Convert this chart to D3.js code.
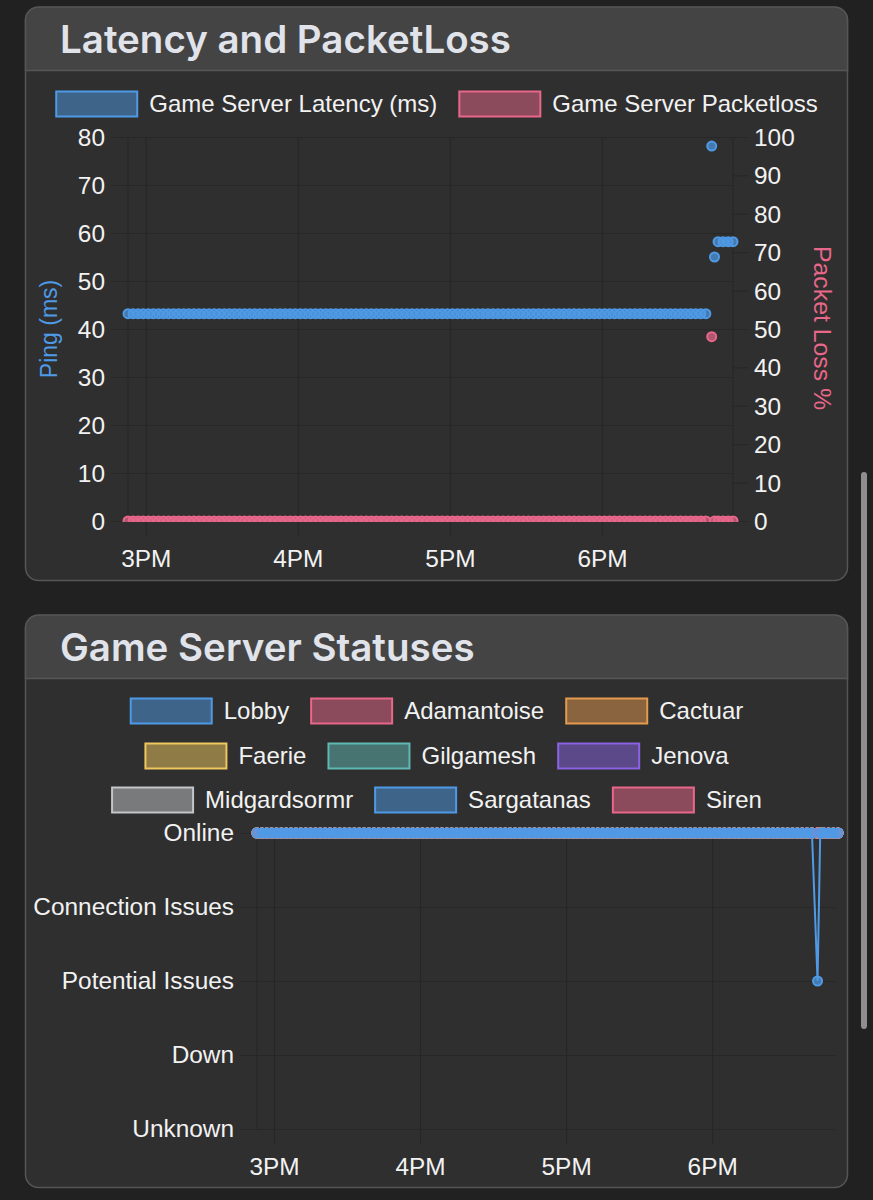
<!DOCTYPE html>
<html>
<head>
<meta charset="utf-8">
<script src="https://cdn.jsdelivr.net/npm/d3@7"></script>
<style>
html, body { margin: 0; padding: 0; background: #212121; overflow: hidden; }
text { font-family: "Liberation Sans", sans-serif; }
.title { font-family: Inter, sans-serif; font-weight: 600; font-size: 38.5px; fill: #e1e3ea; }
.axis text { font-size: 24.4px; fill: #f2f2f2; }
.axis .domain { display: none; }
.axis line { stroke: #272727; stroke-width: 1; }
.legend text { font-size: 24px; fill: #f2f2f2; }
</style>
</head>
<body>
<svg id="page" width="873" height="1200"></svg>
<script>
// minutes relative to 3PM
var times = [
    -7, -5, -3, -1, 1, 3, 5, 7, 9, 11,
    13, 15, 17, 19, 21, 23, 25, 27, 29, 31,
    33, 35, 37, 39, 41, 43, 45, 47, 49, 51,
    53, 55, 57, 59, 61, 63, 65, 67, 69, 71,
    73, 75, 77, 79, 81, 83, 85, 87, 89, 91,
    93, 95, 97, 99, 101, 103, 105, 107, 109, 111,
    113, 115, 117, 119, 121, 123, 125, 127, 129, 131,
    133, 135, 137, 139, 141, 143, 145, 147, 149, 151,
    153, 155, 157, 159, 161, 163, 165, 167, 169, 171,
    173, 175, 177, 179, 181, 183, 185, 187, 189, 191,
    193, 195, 197, 199, 201, 203, 205, 207, 209, 211,
    213, 215, 217, 219, 221,
    223.3, 224.4, 225.8, 227.8, 229.8, 231.7
];
var latency = [
    43.2, 43.2, 43.2, 43.2, 43.2, 43.2, 43.2, 43.2, 43.2, 43.2,
    43.2, 43.2, 43.2, 43.2, 43.2, 43.2, 43.2, 43.2, 43.2, 43.2,
    43.2, 43.2, 43.2, 43.2, 43.2, 43.2, 43.2, 43.2, 43.2, 43.2,
    43.2, 43.2, 43.2, 43.2, 43.2, 43.2, 43.2, 43.2, 43.2, 43.2,
    43.2, 43.2, 43.2, 43.2, 43.2, 43.2, 43.2, 43.2, 43.2, 43.2,
    43.2, 43.2, 43.2, 43.2, 43.2, 43.2, 43.2, 43.2, 43.2, 43.2,
    43.2, 43.2, 43.2, 43.2, 43.2, 43.2, 43.2, 43.2, 43.2, 43.2,
    43.2, 43.2, 43.2, 43.2, 43.2, 43.2, 43.2, 43.2, 43.2, 43.2,
    43.2, 43.2, 43.2, 43.2, 43.2, 43.2, 43.2, 43.2, 43.2, 43.2,
    43.2, 43.2, 43.2, 43.2, 43.2, 43.2, 43.2, 43.2, 43.2, 43.2,
    43.2, 43.2, 43.2, 43.2, 43.2, 43.2, 43.2, 43.2, 43.2, 43.2,
    43.2, 43.2, 43.2, 43.2, 43.2,
    78.1, 55, 58.2, 58.2, 58.2, 58.2
];
var packetLoss = [
    0, 0, 0, 0, 0, 0, 0, 0, 0, 0,
    0, 0, 0, 0, 0, 0, 0, 0, 0, 0,
    0, 0, 0, 0, 0, 0, 0, 0, 0, 0,
    0, 0, 0, 0, 0, 0, 0, 0, 0, 0,
    0, 0, 0, 0, 0, 0, 0, 0, 0, 0,
    0, 0, 0, 0, 0, 0, 0, 0, 0, 0,
    0, 0, 0, 0, 0, 0, 0, 0, 0, 0,
    0, 0, 0, 0, 0, 0, 0, 0, 0, 0,
    0, 0, 0, 0, 0, 0, 0, 0, 0, 0,
    0, 0, 0, 0, 0, 0, 0, 0, 0, 0,
    0, 0, 0, 0, 0, 0, 0, 0, 0, 0,
    0, 0, 0, 0, 0,
    48, 0, 0, 0, 0, 0
];
// 4 = Online ... 0 = Unknown
var lobbyStatus = [
    4, 4, 4, 4, 4, 4, 4, 4, 4, 4,
    4, 4, 4, 4, 4, 4, 4, 4, 4, 4,
    4, 4, 4, 4, 4, 4, 4, 4, 4, 4,
    4, 4, 4, 4, 4, 4, 4, 4, 4, 4,
    4, 4, 4, 4, 4, 4, 4, 4, 4, 4,
    4, 4, 4, 4, 4, 4, 4, 4, 4, 4,
    4, 4, 4, 4, 4, 4, 4, 4, 4, 4,
    4, 4, 4, 4, 4, 4, 4, 4, 4, 4,
    4, 4, 4, 4, 4, 4, 4, 4, 4, 4,
    4, 4, 4, 4, 4, 4, 4, 4, 4, 4,
    4, 4, 4, 4, 4, 4, 4, 4, 4, 4,
    4, 4, 4, 4, 4,
    2, 4, 4, 4, 4, 4
];
var worldStatus = [
    4, 4, 4, 4, 4, 4, 4, 4, 4, 4,
    4, 4, 4, 4, 4, 4, 4, 4, 4, 4,
    4, 4, 4, 4, 4, 4, 4, 4, 4, 4,
    4, 4, 4, 4, 4, 4, 4, 4, 4, 4,
    4, 4, 4, 4, 4, 4, 4, 4, 4, 4,
    4, 4, 4, 4, 4, 4, 4, 4, 4, 4,
    4, 4, 4, 4, 4, 4, 4, 4, 4, 4,
    4, 4, 4, 4, 4, 4, 4, 4, 4, 4,
    4, 4, 4, 4, 4, 4, 4, 4, 4, 4,
    4, 4, 4, 4, 4, 4, 4, 4, 4, 4,
    4, 4, 4, 4, 4, 4, 4, 4, 4, 4,
    4, 4, 4, 4, 4,
    4, 4, 4, 4, 4, 4
];
var hourTicks = [0, 60, 120, 180];
var hourLabels = ["3PM", "4PM", "5PM", "6PM"];
var pingTicks = [0, 10, 20, 30, 40, 50, 60, 70, 80];
var lossTicks = [0, 10, 20, 30, 40, 50, 60, 70, 80, 90, 100];
var statusLabels = ["Unknown", "Down", "Potential Issues", "Connection Issues", "Online"];
var servers = ["Lobby", "Adamantoise", "Cactuar", "Faerie", "Gilgamesh", "Jenova", "Midgardsormr", "Sargatanas", "Siren"];
var serverColors = ["#4f9ae6", "#e8678a", "#e59a4e", "#f0c75e", "#5fb8b4", "#8a63e4", "#c4c5c8", "#4f9ae6", "#e8678a"];

var BLUE = "#4f9ae6", RED = "#e8678a";
var svg = d3.select("#page");

function panel(y, h, title) {
    var r = 13, headH = 63.5;
    svg.append("rect").attr("x", 25.5).attr("y", y + 0.5).attr("width", 822).attr("height", h)
        .attr("rx", r).attr("fill", "#2f2f2f").attr("stroke", "#565656").attr("stroke-width", 1.5);
    svg.append("path")
        .attr("d", "M25.5," + (y + headH) + "V" + (y + r) + "a" + r + "," + r + " 0 0 1 " + r + ",-" + r +
            "H" + (847.5 - r) + "a" + r + "," + r + " 0 0 1 " + r + "," + r + "V" + (y + headH) + "Z")
        .attr("fill", "#444444").attr("stroke", "#565656").attr("stroke-width", 1.5);
    svg.append("text").attr("class", "title").attr("x", 60).attr("y", y + 46).text(title);
}

// centred row of boxes, same spacing as a chart.js legend
function legendRow(names, colors, cy) {
    var g = svg.append("g").attr("class", "legend");
    var items = g.selectAll("g").data(names).enter().append("g");
    items.append("rect").attr("width", 81).attr("height", 25).attr("y", -12.5).attr("x", 1)
        .attr("stroke-width", 2)
        .attr("stroke", function (d, i) { return colors[i]; })
        .attr("fill", function (d, i) { return d3.color(colors[i]).copy({ opacity: 0.5 }); });
    items.append("text").attr("x", 94).attr("dy", "0.35em").text(function (d) { return d; });
    var widths = [];
    items.each(function () { widths.push(94 + d3.select(this).select("text").node().getComputedTextLength()); });
    var x = 436.5 - (d3.sum(widths) + 21 * (widths.length - 1)) / 2;
    items.attr("transform", function (d, i) {
        var t = "translate(" + x + "," + cy + ")";
        x += widths[i] + 21;
        return t;
    });
}

function dots(g, x, y, xs, ys, color) {
    return g.append("g").selectAll("circle").data(xs).enter().append("circle")
        .attr("cx", function (d) { return x(d); })
        .attr("cy", function (d, i) { return y(ys[i]); })
        .attr("r", 4.5)
        .attr("stroke", color).attr("stroke-width", 2)
        .attr("fill", d3.color(color).copy({ opacity: 0.7 }));
}

function xAxis(x, y0, top) {
    var g = svg.append("g").attr("class", "axis").attr("transform", "translate(0," + y0 + ")")
        .call(d3.axisBottom(x).tickValues(hourTicks).tickFormat(function (d, i) { return hourLabels[i]; })
            .tickSize(15).tickPadding(14));
    g.selectAll("line").attr("y1", top);
    return g;
}

function edge(x, value, y0, top) {
    svg.append("line").attr("x1", x(value)).attr("x2", x(value)).attr("y1", y0 + top).attr("y2", y0)
        .attr("stroke", "#272727");
}

/* ---------- Latency and PacketLoss ---------- */
panel(7, 573, "Latency and PacketLoss");
legendRow(["Game Server Latency (ms)", "Game Server Packetloss"], [BLUE, RED], 104);

var x1 = d3.scaleLinear().domain([times[0], times[times.length - 1]]).range([128, 733]);
var yPing = d3.scaleLinear().domain([0, 80]).range([521, 137]);
var yLoss = d3.scaleLinear().domain([0, 100]).range([521, 137]);

xAxis(x1, 521, -384);
edge(x1, times[0], 521, -384);
edge(x1, times[times.length - 1], 521, -384);
var pingAxis = svg.append("g").attr("class", "axis").attr("transform", "translate(128,0)")
    .call(d3.axisLeft(yPing).tickValues(pingTicks).tickSize(16).tickPadding(7));
pingAxis.selectAll("line").attr("x2", -16).attr("x1", 605);
pingAxis.selectAll("text").attr("dy", "0.35em");
svg.append("g").attr("class", "axis").attr("transform", "translate(733,0)")
    .call(d3.axisRight(yLoss).tickValues(lossTicks).tickSize(15).tickPadding(6))
    .selectAll("text").attr("dy", "0.35em");

svg.append("text").attr("transform", "translate(49,329) rotate(-90)").attr("text-anchor", "middle")
    .attr("dy", "0.35em").attr("font-size", 23).attr("fill", BLUE).text("Ping (ms)");
svg.append("text").attr("transform", "translate(823,328) rotate(90)").attr("text-anchor", "middle")
    .attr("dy", "0.35em").attr("font-size", 24.8).attr("fill", RED).text("Packet Loss %");

// points on the zero line are cut off by the bottom of the chart area
svg.append("clipPath").attr("id", "area1").append("rect")
    .attr("x", 118).attr("y", 130).attr("width", 625).attr("height", 392);
var plot1 = svg.append("g").attr("clip-path", "url(#area1)");
dots(plot1, x1, yLoss, times, packetLoss, RED);
dots(plot1, x1, yPing, times, latency, BLUE);

/* ---------- Game Server Statuses ---------- */
panel(615, 572, "Game Server Statuses");
legendRow(servers.slice(0, 3), serverColors.slice(0, 3), 711);
legendRow(servers.slice(3, 6), serverColors.slice(3, 6), 756);
legendRow(servers.slice(6, 9), serverColors.slice(6, 9), 800);

var x2 = d3.scaleLinear().domain([times[0], times[times.length - 1]]).range([257, 838]);
var yStatus = d3.scaleLinear().domain([0, 4]).range([1129, 833]);

xAxis(x2, 1129, -296);
edge(x2, times[0], 1129, -296);
var statusAxis = svg.append("g").attr("class", "axis").attr("transform", "translate(257,0)")
    .call(d3.axisLeft(yStatus).tickValues([0, 1, 2, 3, 4])
        .tickFormat(function (d) { return statusLabels[d]; }).tickSize(17).tickPadding(6));
statusAxis.selectAll("line").attr("x2", -17).attr("x1", 578);

var plot2 = svg.append("g");
var line2 = d3.line().x(function (d) { return x2(d[0]); }).y(function (d) { return yStatus(d[1]); });
// first server ends up on top, as in chart.js
servers.slice().reverse().forEach(function (name, j) {
    var color = serverColors[servers.length - 1 - j];
    var values = name === "Lobby" ? lobbyStatus : worldStatus;
    plot2.append("path").attr("d", line2(d3.zip(times, values)))
        .attr("fill", "none").attr("stroke", color).attr("stroke-width", 2);
    dots(plot2, x2, yStatus, times, values, color);
});

// scrollbar of the page
svg.append("rect").attr("x", 861).attr("y", 472).attr("width", 6).attr("height", 557).attr("rx", 3).attr("fill", "#8e8e8e");
</script>
</body>
</html>
